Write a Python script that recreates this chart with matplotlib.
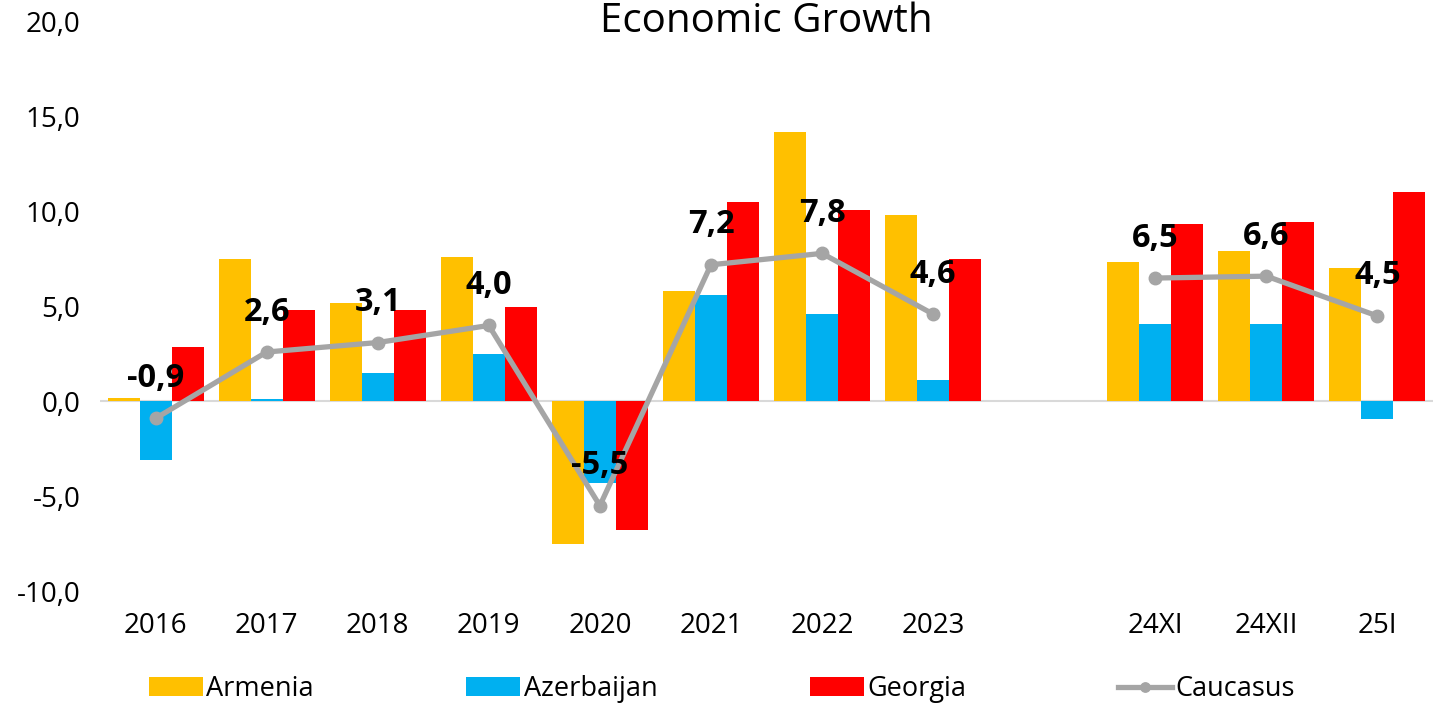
import numpy as np
import matplotlib

matplotlib.use("Agg")
import matplotlib.pyplot as plt
from matplotlib.ticker import FuncFormatter

plt.rcParams["font.family"] = ["Open Sans", "DejaVu Sans"]

# ── Data ─────────────────────────────────────────────────────────────────────
categories = ["2016", "2017", "2018", "2019", "2020", "2021", "2022", "2023",
              "", "24XI", "24XII", "25I"]
armenia = [0.2, 7.5, 5.2, 7.6, -7.5, 5.8, 14.2, 9.8, np.nan, 7.35, 7.95, 7.05]
azerbaijan = [-3.1, 0.1, 1.5, 2.5, -4.3, 5.6, 4.6, 1.1, np.nan, 4.1, 4.1, -0.95]
georgia = [2.85, 4.8, 4.8, 5.0, -6.8, 10.5, 10.1, 7.5, np.nan, 9.35, 9.45, 11.05]
caucasus = [-0.9, 2.6, 3.1, 4.0, -5.5, 7.2, 7.8, 4.6, np.nan, 6.5, 6.6, 4.5]

c_arm = "#FFC000"
c_aze = "#00B0F0"
c_geo = "#FF0000"
c_cau = "#A5A5A5"

# ── Plot ─────────────────────────────────────────────────────────────────────
fig = plt.figure(figsize=(14.43, 7.04), dpi=100)
ax = fig.add_axes([100 / 1443, 1 - 591 / 704, 1333 / 1443, 569 / 704])

x = np.arange(len(categories))
w = 0.288
b1 = ax.bar(x - w, armenia, w, color=c_arm, label="Armenia", zorder=2)
b2 = ax.bar(x, azerbaijan, w, color=c_aze, label="Azerbaijan", zorder=2)
b3 = ax.bar(x + w, georgia, w, color=c_geo, label="Georgia", zorder=2)
ln, = ax.plot(x, caucasus, color=c_cau, lw=3.8, marker="o", ms=9, label="Caucasus", zorder=3)

for xi, v in zip(x, caucasus):
    if np.isnan(v):
        continue
    ax.annotate(f"{v:.1f}".replace(".", ","), (xi, v), xytext=(0, 40),
                textcoords="offset pixels", ha="center", va="center",
                fontsize=23.5, fontweight="bold", color="black", zorder=4)

ax.axhline(0, color="#D9D9D9", lw=1.5, zorder=1)

ax.set_xlim(-0.5, len(categories) - 0.5)
ax.set_ylim(-10, 20)
ax.set_yticks(np.arange(-10, 21, 5))
ax.yaxis.set_major_formatter(FuncFormatter(lambda v, _: f"{v:.1f}".replace(".", ",")))
ax.set_xticks(x)
ax.set_xticklabels(categories)
ax.tick_params(axis="both", length=0, labelsize=20, colors="black")
ax.tick_params(axis="y", pad=14)
ax.tick_params(axis="x", pad=15)
for s in ax.spines.values():
    s.set_visible(False)

ax.text(0.5, 20, "Economic Growth", transform=ax.get_yaxis_transform(),
        ha="center", va="center", fontsize=29, color="black")

fig.legend(handles=[b1, b2, b3, ln], loc="center left",
           bbox_to_anchor=(149 / 1443, 1 - 689 / 704), ncol=4,
           frameon=False, fontsize=19.5, handlelength=2.0, handleheight=0.7,
           handletextpad=0.12, columnspacing=5.62, borderaxespad=0, borderpad=0,
           markerscale=0.75)

fig.savefig("out.png", dpi=100)
